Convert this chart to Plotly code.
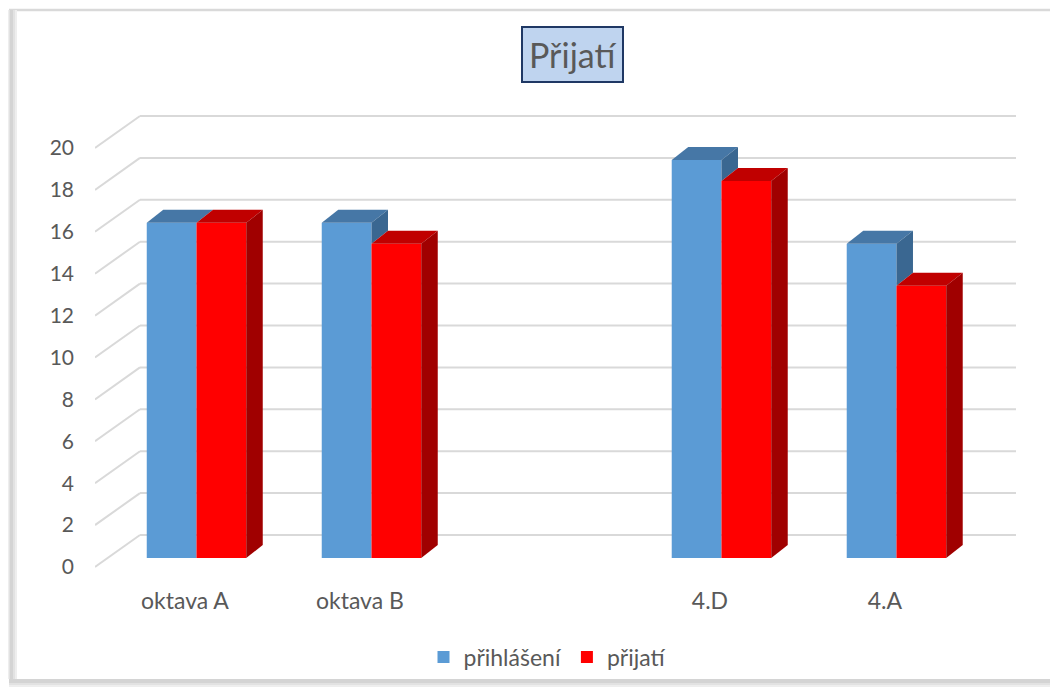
import plotly.graph_objects as go

# ---- data ----
categories = ["oktava A", "oktava B", "", "4.D", "4.A"]
prihlaseni = [16, 16, None, 19, 15]
prijati = [16, 15, None, 18, 13]
series_names = ["přihlášení", "přijatí"]
y_ticks = list(range(0, 21, 2))

# ---- style / geometry ----
OFF = 8                      # page body margin of the html output
W, H = 1058 - OFF, 687 - OFF
FONT = "Lato"
TXT = "#595959"
BLUE, BLUE_TOP, BLUE_SIDE = "#5b9bd5", "#4677a6", "#3a6791"
RED, RED_TOP, RED_SIDE = "#ff0000", "#c00000", "#a00000"
GRID = "#d9d9d9"


def px(x):
    return (x - OFF) / W


def py(y):
    return 1 - (y - OFF) / H


BARGAP = 0.4314
BW = (1 - BARGAP) / 2          # bar width in category units
DX, DY = 0.0943, 0.62          # bar depth (x in category units, y in value units)
BACK_DY = 1.098                # back wall offset (value units)
FRONT_DY = -0.4296             # front label plane offset
X_LO, X_HI = -0.58, 4.683
X_BACK = -0.3229
Y_LO, Y_HI = -1.050, 21.862

idx = list(range(len(categories)))

fig = go.Figure()

fig.add_trace(go.Bar(x=idx, y=prihlaseni, name=series_names[0],
                     marker=dict(color=BLUE, line=dict(width=0))))
fig.add_trace(go.Bar(x=idx, y=prijati, name=series_names[1],
                     marker=dict(color=RED, line=dict(width=0))))


def poly_trace(xs, ys, color):
    fig.add_trace(go.Scatter(x=xs, y=ys, fill="toself", fillcolor=color, mode="none",
                             hoverinfo="skip", showlegend=False))


# blue top faces and visible part of blue side faces
for i, vb, vr in zip(idx, prihlaseni, prijati):
    if vb is None:
        continue
    x0, x1 = i - BW, i
    poly_trace([x0, x0 + DX, x1 + DX, x1, x0], [vb, vb + DY, vb + DY, vb, vb], BLUE_TOP)
    lo = min(vr if vr is not None else 0, vb)
    if lo < vb:
        poly_trace([x1, x1, x1 + DX, x1 + DX, x1], [lo, vb, vb + DY, lo + DY, lo], BLUE_SIDE)

# red top and side faces
for i, vr in zip(idx, prijati):
    if vr is None:
        continue
    x0, x1 = i, i + BW
    poly_trace([x0, x0 + DX, x1 + DX, x1, x0], [vr, vr + DY, vr + DY, vr, vr], RED_TOP)
    poly_trace([x1, x1, x1 + DX, x1 + DX, x1], [0, vr, vr + DY, DY, 0], RED_SIDE)

# gridlines on the back wall + diagonals to the front plane
shapes = []
for v in y_ticks:
    shapes.append(dict(type="line", xref="x", yref="y", layer="below",
                       x0=X_BACK, x1=X_HI, y0=v + BACK_DY, y1=v + BACK_DY,
                       line=dict(color=GRID, width=2)))
    shapes.append(dict(type="line", xref="x", yref="y", layer="below",
                       x0=X_LO, x1=X_BACK, y0=v + FRONT_DY, y1=v + BACK_DY,
                       line=dict(color=GRID, width=2)))

# chart frame (top and left edges) with soft shadow at left and bottom
shapes.append(dict(type="line", xref="paper", yref="paper", layer="below",
                   x0=px(9), x1=1.0, y0=py(10), y1=py(10),
                   line=dict(color="#d9d9d9", width=2.5)))
for k, c in enumerate(["#eeeeee", "#e2e2e2", "#d4d4d4"]):
    shapes.append(dict(type="rect", xref="paper", yref="paper", layer="below",
                       x0=px(9), x1=1.0, y0=py(687 - k * 2), y1=py(679),
                       line=dict(width=0), fillcolor=c))
    shapes.append(dict(type="rect", xref="paper", yref="paper", layer="below",
                       x0=px(8 + k), x1=px(17 - k * 2), y0=py(679), y1=py(10),
                       line=dict(width=0), fillcolor=c))

fig.update_layout(
    width=W, height=H,
    margin=dict(l=0, r=0, t=0, b=0),
    paper_bgcolor="white", plot_bgcolor="rgba(0,0,0,0)",
    barmode="group", bargap=BARGAP, bargroupgap=0,
    font=dict(family=FONT, color=TXT, size=21),
    shapes=shapes,
    xaxis=dict(domain=[px(95), px(1016)], range=[X_LO, X_HI],
               tickmode="array", tickvals=[i - 0.066 for i in idx], ticktext=categories,
               showgrid=False, zeroline=False, showline=False, ticks="",
               tickfont=dict(size=23, color=TXT), ticklabelstandoff=5),
    yaxis=dict(domain=[py(580), py(100)], range=[Y_LO, Y_HI],
               showticklabels=False, showgrid=False, zeroline=False, showline=False),
    yaxis2=dict(overlaying="y", side="left", anchor="x",
                range=[Y_LO - FRONT_DY, Y_HI - FRONT_DY],
                tickmode="array", tickvals=y_ticks,
                showgrid=False, zeroline=False, showline=False, ticks="",
                tickfont=dict(size=21, color=TXT), ticklabelstandoff=20),
    legend=dict(orientation="h", x=px(547), xanchor="center", y=py(657), yanchor="middle",
                font=dict(size=23, color=TXT), bgcolor="rgba(0,0,0,0)",
                itemwidth=30),
    annotations=[dict(text="Přijatí", xref="paper", yref="paper", x=px(572), y=py(55),
                      xanchor="center", yanchor="middle", showarrow=False,
                      font=dict(family=FONT, size=34, color=TXT),
                      bgcolor="#bfd4ef", bordercolor="#1f3864", borderwidth=2, borderpad=6)],
)

# dummy trace so the yaxis2 labels render
fig.add_trace(go.Scatter(x=[None], y=[None], yaxis="y2", showlegend=False, hoverinfo="skip"))

fig.write_html("out.html")
